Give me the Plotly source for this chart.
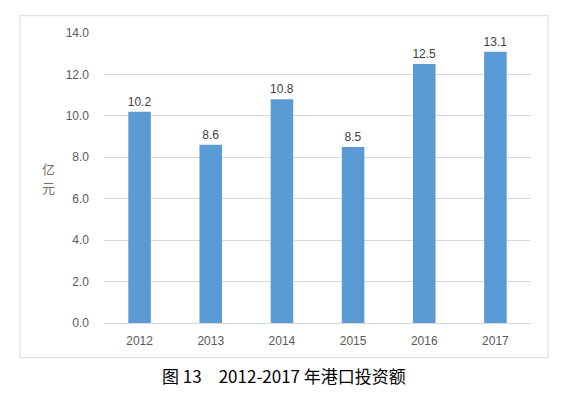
import plotly.graph_objects as go

years = ["2012", "2013", "2014", "2015", "2016", "2017"]
values = [10.2, 8.6, 10.8, 8.5, 12.5, 13.1]
y_ticks = [0, 2, 4, 6, 8, 10, 12, 14]
y_tick_labels = ["0.0", "2.0", "4.0", "6.0", "8.0", "10.0", "12.0", "14.0"]

font_family = "Liberation Sans, Noto Sans CJK SC, sans-serif"
grey = "#595959"

L, R, T, B = 104, 531, 33.3, 323.3
PW, PH = R - L, B - T


def px(x):
    return (x - L) / PW


def py(y):
    return (B - y) / PH


fig = go.Figure(go.Bar(
    x=years, y=values,
    marker=dict(color="#5B9BD5", line=dict(width=0)),
    width=0.317,
    text=[f"{v:.1f}" for v in values],
    textposition="outside",
    constraintext="none",
    textfont=dict(size=12, color="#404040", family=font_family),
    cliponaxis=False,
))

fig.update_layout(
    width=570, height=398,
    margin=dict(l=L, r=570 - R, t=T, b=398 - B),
    paper_bgcolor="white", plot_bgcolor="white",
    showlegend=False,
    font=dict(family=font_family, color=grey, size=12),
    xaxis=dict(showgrid=False, showline=False, ticks="", ticklabelstandoff=9,
               tickfont=dict(size=12, color=grey)),
    yaxis=dict(range=[0, 14], tickvals=y_ticks, ticktext=y_tick_labels,
               showgrid=True, gridcolor="#d9d9d9", gridwidth=1,
               zeroline=True, zerolinecolor="#d9d9d9", zerolinewidth=1,
               showline=False, ticks="", ticklabelstandoff=14,
               tickfont=dict(size=12, color=grey)),
    shapes=[dict(type="rect", xref="paper", yref="paper",
                 x0=px(20), x1=px(548), y0=py(358), y1=py(16),
                 line=dict(color="#d9d9d9", width=1), fillcolor="rgba(0,0,0,0)")],
    annotations=[
        dict(text="亿", xref="paper", yref="paper", x=px(48), y=py(169),
             showarrow=False, font=dict(size=13, color="#7f6a55", family="Noto Sans CJK SC"),
             xanchor="center", yanchor="middle", height=17, borderpad=0),
        dict(text="元", xref="paper", yref="paper", x=px(48), y=py(187.5),
             showarrow=False, font=dict(size=13, color="#7f6a55", family="Noto Sans CJK SC"),
             xanchor="center", yanchor="middle", height=17, borderpad=0),
        dict(text="图 13　2012-2017 年港口投资额", xref="paper", yref="paper",
             x=px(284), y=py(376), showarrow=False,
             font=dict(size=17, color="black", family="Noto Sans CJK SC"),
             xanchor="center", yanchor="middle"),
    ],
)

fig.write_html("out.html", config={"displayModeBar": False},
               post_script="document.body.style.margin='0';")
